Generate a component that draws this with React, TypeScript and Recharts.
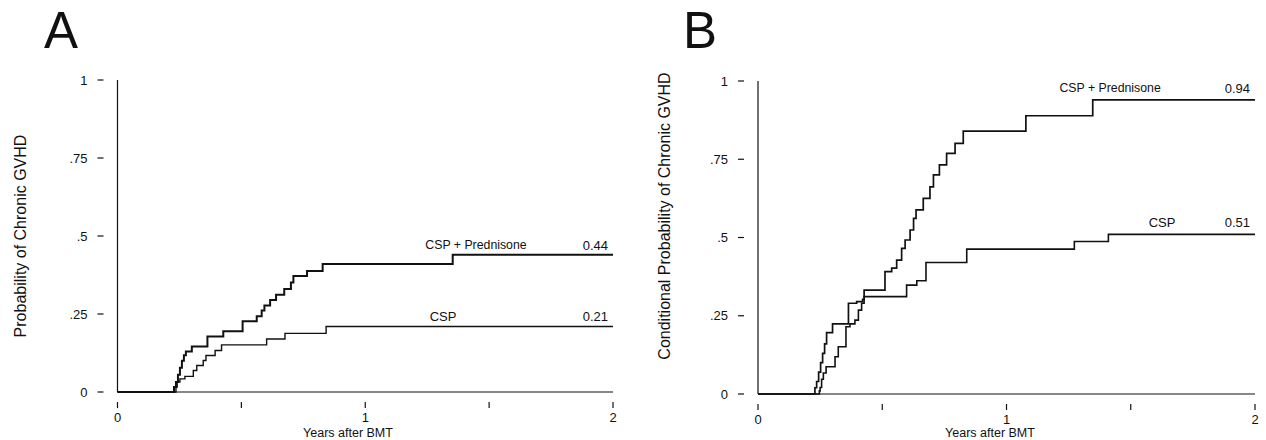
import React from 'react';
import { LineChart, Line, XAxis, YAxis, ReferenceDot } from 'recharts';

// Curvas de incidencia acumulada de EICH crónica.
// t = años tras el TMO, v = probabilidad.

// Panel A
const aPredT = [0, 0.228, 0.236, 0.244, 0.252, 0.26, 0.268, 0.276, 0.3, 0.363, 0.427, 0.505, 0.562, 0.582, 0.593, 0.616, 0.64, 0.673, 0.7, 0.71, 0.765, 0.828, 1.353, 2];
const aPredV = [0, 0.016, 0.032, 0.055, 0.078, 0.1, 0.118, 0.13, 0.146, 0.178, 0.195, 0.227, 0.243, 0.261, 0.277, 0.295, 0.312, 0.33, 0.351, 0.372, 0.388, 0.41, 0.44, 0.44];
const aCspT = [0, 0.236, 0.241, 0.252, 0.272, 0.306, 0.32, 0.346, 0.357, 0.394, 0.42, 0.602, 0.676, 0.842, 2];
const aCspV = [0, 0.016, 0.032, 0.042, 0.05, 0.069, 0.085, 0.101, 0.117, 0.133, 0.151, 0.17, 0.188, 0.21, 0.21];

// Panel B
const bPredT = [0, 0.229, 0.236, 0.244, 0.252, 0.26, 0.268, 0.276, 0.3, 0.364, 0.397, 0.421, 0.427, 0.511, 0.538, 0.558, 0.578, 0.592, 0.612, 0.626, 0.636, 0.665, 0.692, 0.706, 0.73, 0.759, 0.793, 0.826, 1.078, 1.347, 2];
const bPredV = [0, 0.02, 0.04, 0.07, 0.1, 0.13, 0.16, 0.196, 0.224, 0.29, 0.295, 0.302, 0.332, 0.391, 0.402, 0.428, 0.465, 0.492, 0.524, 0.561, 0.588, 0.625, 0.662, 0.7, 0.732, 0.769, 0.801, 0.84, 0.889, 0.94, 0.94];
const bCspT = [0, 0.247, 0.25, 0.256, 0.263, 0.274, 0.31, 0.323, 0.354, 0.37, 0.39, 0.404, 0.417, 0.427, 0.598, 0.639, 0.676, 0.84, 1.273, 1.41, 2];
const bCspV = [0, 0.01, 0.021, 0.047, 0.067, 0.087, 0.119, 0.151, 0.215, 0.224, 0.236, 0.268, 0.29, 0.311, 0.348, 0.362, 0.42, 0.463, 0.487, 0.51, 0.51];

const xTicks = [0, 0.5, 1, 1.5, 2];
const yTicks = [0, 0.25, 0.5, 0.75, 1];

const INK = '#111';
const FONT = '"Liberation Sans", Arial, Helvetica, sans-serif';

const zip = (t: number[], v: number[]) => t.map((x, i) => ({ t: x, v: v[i] }));

const fmtY = (v: number) => (v === 0 || v === 1 ? String(v) : String(v).replace(/^0/, ''));

function YTick({ x, y, payload }: any) {
  return (
    <g>
      <line x1={x - 20} x2={x - 14} y1={y} y2={y} stroke={INK} strokeWidth={1.2} />
      <text x={x - 30} y={y} textAnchor="end" dominantBaseline="central" fontSize={13} fill={INK} fontFamily={FONT}>
        {fmtY(payload.value)}
      </text>
    </g>
  );
}

function XTick({ x, y, payload }: any) {
  const v = payload.value;
  return (
    <g>
      <line x1={x} x2={x} y1={y + 10} y2={y + 16} stroke={INK} strokeWidth={1.2} />
      {Number.isInteger(v) && (
        <text x={x} y={y + 30} textAnchor="middle" fontSize={13} fill={INK} fontFamily={FONT}>{v}</text>
      )}
    </g>
  );
}

const note = (text: string, anchor: 'middle' | 'end') => (p: any) => (
  <text
    x={anchor === 'end' ? p.cx - 5 : p.cx}
    y={p.cy}
    textAnchor={anchor}
    dominantBaseline="central"
    fontSize={text.length > 6 ? 12.3 : 13}
    fill={INK}
    fontFamily={FONT}
  >
    {text}
  </text>
);

type Note = { t: number; v: number; text: string; anchor: 'middle' | 'end' };

function Panel({
  width, yAxisWidth, top, right, xAxisHeight, pred, csp, notes, predWidth, cspWidth,
}: {
  width: number; yAxisWidth: number; top: number; right: number; xAxisHeight: number;
  pred: { t: number; v: number }[]; csp: { t: number; v: number }[]; notes: Note[];
  predWidth: number; cspWidth: number;
}) {
  return (
    <LineChart width={width} height={440} margin={{ top, right, bottom: 0, left: 0 }}>
      <XAxis
        type="number" dataKey="t" domain={[0, 2]} ticks={xTicks} interval={0}
        height={xAxisHeight} tickSize={0} tickMargin={0} tickLine={false}
        axisLine={{ stroke: INK, strokeWidth: 1.2 }} tick={<XTick />}
      />
      <YAxis
        type="number" domain={[0, 1]} ticks={yTicks} interval={0}
        width={yAxisWidth} tickSize={0} tickMargin={0} tickLine={false}
        axisLine={{ stroke: INK, strokeWidth: 1.2 }} tick={<YTick />}
      />
      <Line data={csp} dataKey="v" type="stepAfter" dot={false} stroke={INK} strokeWidth={cspWidth} isAnimationActive={false} />
      <Line data={pred} dataKey="v" type="stepAfter" dot={false} stroke={INK} strokeWidth={predWidth} isAnimationActive={false} />
      {notes.map((n) => (
        <ReferenceDot key={n.text} x={n.t} y={n.v} r={0} shape={note(n.text, n.anchor)} />
      ))}
    </LineChart>
  );
}

const notesA: Note[] = [
  { t: 1.447, v: 0.471, text: 'CSP + Prednisone', anchor: 'middle' },
  { t: 2, v: 0.471, text: '0.44', anchor: 'end' },
  { t: 1.314, v: 0.241, text: 'CSP', anchor: 'middle' },
  { t: 2, v: 0.241, text: '0.21', anchor: 'end' },
];

const notesB: Note[] = [
  { t: 1.417, v: 0.977, text: 'CSP + Prednisone', anchor: 'middle' },
  { t: 2, v: 0.977, text: '0.94', anchor: 'end' },
  { t: 1.626, v: 0.547, text: 'CSP', anchor: 'middle' },
  { t: 2, v: 0.547, text: '0.51', anchor: 'end' },
];

export default function App() {
  return (
    <div style={{ position: 'absolute', left: 0, top: 0, width: 1266, height: 440, background: '#fff', fontFamily: FONT }}>
      <div style={{ position: 'absolute', left: 0, top: 0 }}>
        <Panel
          width={640} yAxisWidth={117.5} top={80} right={27} xAxisHeight={48}
          pred={zip(aPredT, aPredV)} csp={zip(aCspT, aCspV)} notes={notesA}
          predWidth={2} cspWidth={1.4}
        />
      </div>
      <div style={{ position: 'absolute', left: 640, top: 0 }}>
        <Panel
          width={626} yAxisWidth={118} top={81} right={11} xAxisHeight={46}
          pred={zip(bPredT, bPredV)} csp={zip(bCspT, bCspV)} notes={notesB}
          predWidth={1.7} cspWidth={1.6}
        />
      </div>
      {/* letras de panel y títulos de ejes */}
      <svg width={1266} height={440} style={{ position: 'absolute', left: 0, top: 0, pointerEvents: 'none' }}>
        <g fontFamily={FONT} fill={INK}>
          <text x={44} y={48} fontSize={51}>A</text>
          <text x={683} y={48} fontSize={51}>B</text>
          <text x={20} y={236} fontSize={16} textAnchor="middle" dominantBaseline="central" transform="rotate(-90 20 236)">
            Probability of Chronic GVHD
          </text>
          <text x={664} y={216} fontSize={16} textAnchor="middle" dominantBaseline="central" transform="rotate(-90 664 216)">
            Conditional Probability of Chronic GVHD
          </text>
          <text x={348} y={437} fontSize={12.5} textAnchor="middle">Years after BMT</text>
          <text x={990} y={437} fontSize={12.5} textAnchor="middle">Years after BMT</text>
        </g>
      </svg>
    </div>
  );
}
